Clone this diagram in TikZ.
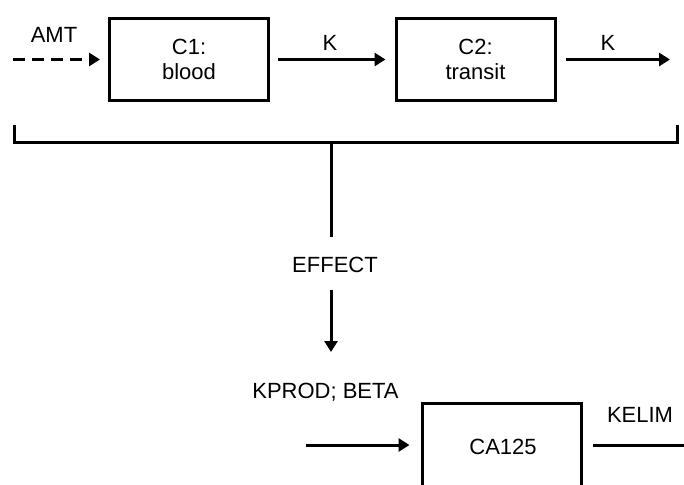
\documentclass[tikz,border=0pt]{standalone}
\usepackage{fontspec}
\setmainfont{Liberation Sans}
\usetikzlibrary{arrows.meta}
\begin{document}
\begin{tikzpicture}[x=1pt,y=-1pt,
	every node/.style={font=\fontsize{22}{25}\selectfont},
	comp/.style={draw,line width=3pt,minimum width=159pt,minimum height=82pt,align=center,inner sep=0pt},
	flow/.style={line width=3pt,-{Triangle[length=11pt,width=13pt]}}]
	\useasboundingbox (0,0) rectangle (684,484);
	% Define the coordinates
	\coordinate (A) at (13,59.5);
	\coordinate (Kout) at (670,59.5);
	\coordinate (BL) at (14,125);
	\coordinate (BR) at (677,125);
	\coordinate (BM) at (331,142);
	\coordinate (E) at (331,352);
	\coordinate (P) at (306,445);
	\coordinate (Eout) at (690,445);
	% Compartments
	\node[comp] (c1) at (189,59.5) {C1:\\blood};
	\node[comp] (c2) at (475.5,59.5) {C2:\\transit};
	\node[comp,minimum height=100pt] (ca) at (501.5,453.5) {};
	\node at (503,447) {CA125};
	% Draw the flows
	\draw[flow,dash pattern=on 12pt off 7pt,shorten >=8pt] (A) -- (c1);
	\draw[flow,shorten <=8pt,shorten >=9pt] (c1) -- (c2);
	\draw[flow,shorten <=9pt] (c2.east) -- (Kout);
	% Bracket and effect
	\draw[line width=3pt] (BL) -- (BL |- BM) -- (BR |- BM) -- (BR);
	\node (eff) at (335,265) {EFFECT};
	\draw[line width=3pt] (BM) -- (BM |- 0,237);
	\draw[flow] (BM |- 0,290) -- (E);
	% Production and elimination
	\draw[flow,shorten >=11pt] (P) -- (P -| ca.west);
	\draw[line width=3pt,shorten <=10pt] (ca.east |- Eout) -- (Eout);
	% Add labels
	\node at (54,35) {AMT};
	\node at (330,43) {K};
	\node at (608,43) {K};
	\node at (325.5,392) {KPROD; BETA};
	\node at (640,415) {KELIM};
\end{tikzpicture}
\end{document}
